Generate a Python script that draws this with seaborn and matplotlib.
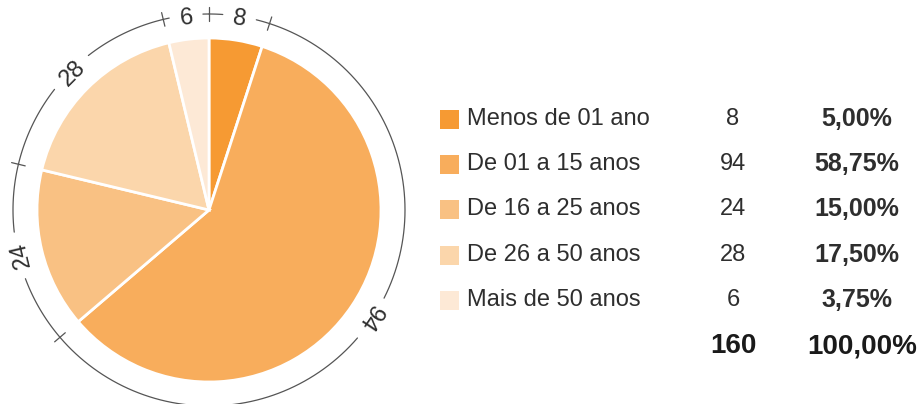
import numpy as np
import matplotlib
matplotlib.use("Agg")
import matplotlib.pyplot as plt
import seaborn as sns

# data
categorias = ["Menos de 01 ano", "De 01 a 15 anos", "De 16 a 25 anos",
              "De 26 a 50 anos", "Mais de 50 anos"]
valores = [8, 94, 24, 28, 6]
percentuais = ["5,00%", "58,75%", "15,00%", "17,50%", "3,75%"]
total_txt = "160"
total_pct = "100,00%"

cores = sns.color_palette(["#F69A33", "#F8AD5C", "#F9C183", "#FBD6AB", "#FDE9D6"])

sns.set_theme(style="white")
plt.rcParams["font.family"] = ["Liberation Sans", "DejaVu Sans"]
txt_color = "#2e2e2e"

fig = plt.figure(figsize=(9.21, 4.04), dpi=100)
ax = fig.add_axes([0, 0, 1, 1])

# pie (pixel coords, y from bottom)
cx, cy, r = 209, 194, 172
R = 196
ax.pie(valores, colors=cores, startangle=90, counterclock=False,
       center=(cx, cy), radius=r, frame=True,
       wedgeprops=dict(edgecolor="white", linewidth=2))
ax.set_xlim(0, 921)
ax.set_ylim(0, 404)
ax.set_aspect("equal")
ax.axis("off")

# outer ring with ticks at slice boundaries and labels at mid angles
total = sum(valores)
bounds = [90.0]
for v in valores:
    bounds.append(bounds[-1] - 360.0 * v / total)

for i, v in enumerate(valores):
    a0, a1 = bounds[i], bounds[i + 1]
    mid = (a0 + a1) / 2
    lab = str(v)
    half_gap = np.degrees((len(lab) * 7 + 10) / R)
    # arc pieces on each side of the label
    for s, e in [(a0, mid + half_gap), (mid - half_gap, a1)]:
        t = np.radians(np.linspace(s, e, 60))
        ax.plot(cx + R * np.cos(t), cy + R * np.sin(t), color="#555555", lw=0.9)
    rl = R - 3
    ax.text(cx + rl * np.cos(np.radians(mid)), cy + rl * np.sin(np.radians(mid)), lab,
            rotation=mid - 90, rotation_mode="anchor", ha="center", va="center",
            fontsize=17, color=txt_color)

for b in bounds[:-1]:
    t = np.radians(b)
    ax.plot([cx + (R - 7) * np.cos(t), cx + (R + 7) * np.cos(t)],
            [cy + (R - 7) * np.sin(t), cy + (R + 7) * np.sin(t)],
            color="#555555", lw=0.9)

# legend table
ys = [404 - y for y in [119, 164, 209, 255, 300]]
for y, cat, v, p, c in zip(ys, categorias, valores, percentuais, cores):
    ax.add_patch(plt.Rectangle((440, y - 9.5), 19, 19, color=c, lw=0))
    ax.text(467, y, cat, ha="left", va="center", fontsize=17, color=txt_color)
    ax.text(733, y, str(v), ha="center", va="center", fontsize=17, color=txt_color)
    ax.text(857, y, p, ha="center", va="center", fontsize=18, color=txt_color,
            fontweight="bold")
ax.text(733, 404 - 346, total_txt, ha="center", va="center", fontsize=20,
        color="#1a1a1a", fontweight="heavy")
ax.text(862, 404 - 346, total_pct, ha="center", va="center", fontsize=20,
        color="#1a1a1a", fontweight="heavy")

fig.savefig("out.png", dpi=100, facecolor="white")
